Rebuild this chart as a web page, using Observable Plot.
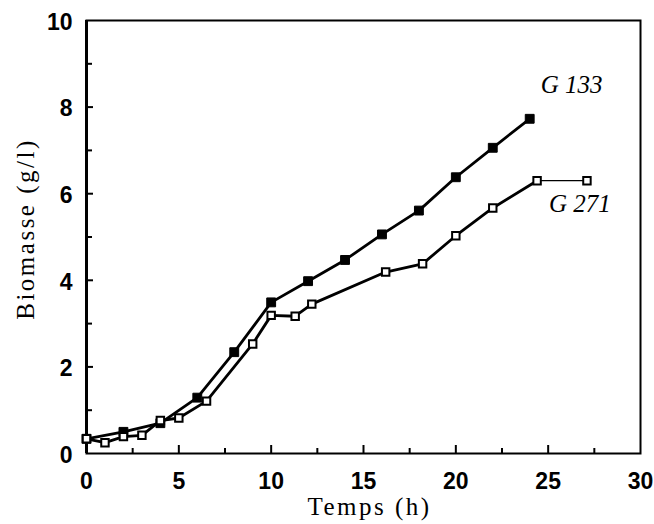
<!DOCTYPE html>
<html>
<head>
<meta charset="utf-8">
<script src="https://cdn.jsdelivr.net/npm/d3@7"></script>
<script src="https://cdn.jsdelivr.net/npm/@observablehq/plot@0.6"></script>
<style>
  html, body { margin: 0; padding: 0; background: #fff; }
</style>
</head>
<body>
<div id="chart"></div>
<script>
// Data
const g133Time = [0, 2, 4, 6, 8, 10, 12, 14, 16, 18, 20, 22, 24];
const g133Biomass = [0.34, 0.50, 0.70, 1.29, 2.34, 3.49, 3.98, 4.47, 5.06, 5.61, 6.38, 7.06, 7.73];

const g271Time = [0, 1, 2, 3, 4, 5, 6.5, 9, 10, 11.3, 12.2, 16.2, 18.2, 20, 22, 24.4, 27.1];
const g271Biomass = [0.34, 0.25, 0.39, 0.42, 0.76, 0.82, 1.21, 2.53, 3.19, 3.17, 3.45, 4.19, 4.38, 5.03, 5.67, 6.30, 6.30];

const xTicks = [0, 5, 10, 15, 20, 25, 30];
const xMinor = [2.5, 7.5, 12.5, 17.5, 22.5, 27.5];
const xInner = [5, 10, 15, 20, 25];
const yTicks = [0, 2, 4, 6, 8, 10];
const yMinor = [1, 3, 5, 7, 9];
const yInner = [2, 4, 6, 8];

const seriesNames = ["G 133", "G 271"];
const xTitle = "Temps (h)";
const yTitle = "Biomasse (g/l)";

const g133 = g133Time.map((t, i) => ({t, v: g133Biomass[i]}));
const g271 = g271Time.map((t, i) => ({t, v: g271Biomass[i]}));

const W = 654, H = 524;
const mL = 86, mR = 14, mT = 20, mB = 71;
const innerW = W - mL - mR, innerH = H - mT - mB;

const tickFont = "'Liberation Sans', Arial, sans-serif";
const serif = "'Liberation Serif', 'Times New Roman', 'DejaVu Serif', serif";

const chart = Plot.plot({
  width: W,
  height: H,
  marginLeft: mL,
  marginRight: mR,
  marginTop: mT,
  marginBottom: mB,
  style: {background: "#fff", color: "#000", fontFamily: tickFont, fontSize: "23px", fontWeight: "bold"},
  x: {domain: [0, 30], axis: null},
  y: {domain: [0, 10], axis: null},
  marks: [
    Plot.axisX(xTicks, {label: null, tickSize: 0, tickPadding: 19, fontSize: 23, fontWeight: "bold", fontFamily: tickFont}),
    Plot.axisY(yTicks, {label: null, tickSize: 0, tickPadding: 14, dy: 2, fontSize: 23, fontWeight: "bold", fontFamily: tickFont}),
    // inward ticks
    Plot.tickX(xInner, {x: d => d, insetTop: innerH - 8, strokeWidth: 2}),
    Plot.tickX(xMinor, {x: d => d, insetTop: innerH - 5, strokeWidth: 2}),
    Plot.tickY(yInner, {y: d => d, insetRight: innerW - 7, strokeWidth: 2}),
    Plot.tickY(yMinor, {y: d => d, insetRight: innerW - 6, strokeWidth: 2}),
    Plot.frame({stroke: "#000", strokeWidth: 2}),
    Plot.ruleX([0], {strokeWidth: 3}),
    // series lines
    Plot.line(g133, {x: "t", y: "v", stroke: "#000", strokeWidth: 2.8}),
    Plot.line(g271.slice(0, -1), {x: "t", y: "v", stroke: "#000", strokeWidth: 2.8}),
    Plot.line(g271.slice(-2), {x: "t", y: "v", stroke: "#000", strokeWidth: 1.3}),
    // markers
    Plot.dot(g133, {x: "t", y: "v", symbol: "square", r: 5, fill: "#000", stroke: "#000", strokeWidth: 1}),
    Plot.dot(g271, {x: "t", y: "v", symbol: "square", r: 4.2, fill: "#fff", stroke: "#000", strokeWidth: 2}),
    // series labels anchored to the last points
    Plot.text([g133[g133.length - 1]], {x: "t", y: "v", text: () => seriesNames[0], dx: 42, dy: -34,
      fontFamily: serif, fontStyle: "italic", fontWeight: "normal", fontSize: 25}),
    Plot.text([g271[g271.length - 1]], {x: "t", y: "v", text: () => seriesNames[1], dx: -7, dy: 23,
      fontFamily: serif, fontStyle: "italic", fontWeight: "normal", fontSize: 25}),
    // axis titles
    Plot.text([xTitle], {frameAnchor: "bottom", textAnchor: "middle", dx: 6, dy: 53, lineAnchor: "middle",
      fontFamily: serif, fontWeight: "normal", fontSize: 25}),
    Plot.text([yTitle], {frameAnchor: "left", textAnchor: "middle", rotate: -90, dx: -61, dy: -8, lineAnchor: "middle",
      fontFamily: serif, fontWeight: "normal", fontSize: 25})
  ]
});

// widen the axis titles' letter spacing to match the reference
d3.select(chart).selectAll("text")
  .filter(function () { return this.textContent === xTitle; })
  .attr("letter-spacing", "2.5px");
d3.select(chart).selectAll("text")
  .filter(function () { return this.textContent === yTitle; })
  .attr("letter-spacing", "2.5px");

document.getElementById("chart").appendChild(chart);
</script>
</body>
</html>
